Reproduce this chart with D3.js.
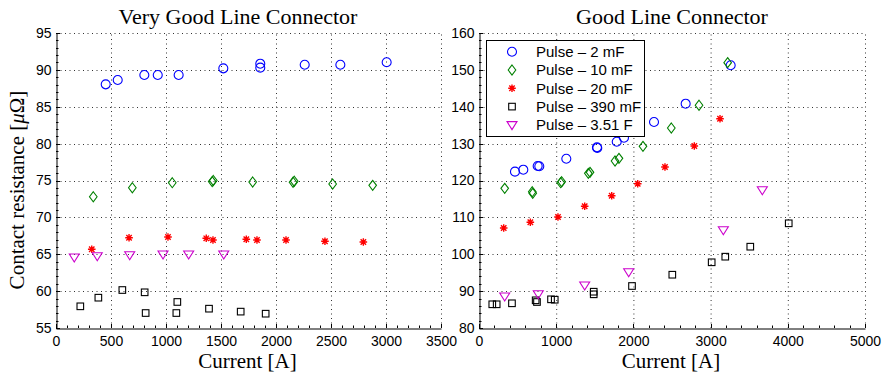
<!DOCTYPE html>
<html><head><meta charset="utf-8">
<script src="https://cdn.jsdelivr.net/npm/d3@7"></script>
<style>body{margin:0;background:#fff}svg{display:block}</style>
</head><body><svg id="c" width="887" height="377"></svg>
<script>
// ---------- data ----------
const seriesNames = ["Pulse \u2013 2 mF","Pulse \u2013 10 mF","Pulse \u2013 20 mF","Pulse \u2013 390 mF","Pulse \u2013 3.51 F"];
const seriesColors = ["#0000ff","#008000","#ff0000","#000000","#cc00cc"];
const seriesMarkers = ["circle","diamond","star","square","triangle"];

// Very Good Line Connector: [current A, resistance µΩ]
const vg2mF   = [[452,88.04],[561,88.63],[803,89.31],[925,89.31],[1115,89.31],[1521,90.21],[1857,90.84],[1857,90.3],[2261,90.7],[2585,90.7],[3006,91.03]];
const vg10mF  = [[339,72.8],[694,74.02],[1057,74.7],[1420,74.85],[1430,75.0],[1788,74.8],[2155,74.76],[2166,74.9],[2515,74.53],[2879,74.35]];
const vg20mF  = [[325,65.67],[664,67.24],[1018,67.34],[1366,67.16],[1427,66.93],[1730,67.03],[1827,66.93],[2091,66.93],[2445,66.76],[2794,66.66]];
const vg390mF = [[221,57.94],[385,59.11],[603,60.15],[806,59.84],[815,57.03],[1094,57.03],[1103,58.53],[1391,57.62],[1679,57.22],[1906,56.94]];
const vg351F  = [[166,64.59],[375,64.76],[670,64.9],[973,64.99],[1206,64.99],[1525,64.99]];

// Good Line Connector
const g2mF   = [[466,122.4],[574,122.93],[760,123.93],[781,123.85],[1131,125.9],[1528,129.0],[1532,128.8],[1784,130.52],[1878,131.6],[2267,135.86],[2677,140.83],[3260,151.24]];
const g10mF  = [[333,117.88],[690,116.96],[696,116.53],[1058,119.4],[1071,119.67],[1416,121.95],[1438,122.22],[1762,125.29],[1813,126.02],[2124,129.27],[2491,134.24],[2850,140.4],[3221,151.95]];
const g20mF  = [[320,107.12],[665,108.66],[1023,110.1],[1369,113.0],[1719,115.88],[2056,119.13],[2409,123.66],[2789,129.36],[3122,136.76]];
const g390mF = [[172,86.43],[229,86.43],[427,86.7],[734,87.51],[751,87.05],[933,87.78],[981,87.67],[1486,89.84],[1486,89.14],[1982,91.39],[2504,94.45],[3014,97.82],[3190,99.34],[3514,102.05],[4012,108.39]];
const g351F  = [[333,88.6],[768,89.22],[1369,91.58],[1939,95.19],[3165,106.58],[3670,117.42]];

const leftXTicks  = [0,500,1000,1500,2000,2500,3000,3500];
const leftYTicks  = [55,60,65,70,75,80,85,90,95];
const rightXTicks = [0,1000,2000,3000,4000,5000];
const rightYTicks = [80,90,100,110,120,130,140,150,160];

const panels = [
  {title:"Very Good Line Connector", tx:238, x0:56, x1:441, xd:[0,3500], yd:[55,95], xt:leftXTicks, yt:leftYTicks, xm:100, ym:1,
   data:[vg2mF,vg10mF,vg20mF,vg390mF,vg351F]},
  {title:"Good Line Connector", tx:672, x0:479, x1:865, xd:[0,5000], yd:[80,160], xt:rightXTicks, yt:rightYTicks, xm:200, ym:2,
   data:[g2mF,g10mF,g20mF,g390mF,g351F], legend:true}
];
const yTop = 33, yBot = 328;

// ---------- drawing ----------
const svg = d3.select("#c");
const sans = "'Liberation Sans', Arial, sans-serif";
const serif = "'Liberation Serif', 'Times New Roman', serif";

function marker(g, type, color, x, y) {
  const s = g.append("g").attr("transform", `translate(${x},${y})`)
    .attr("fill","none").attr("stroke",color).attr("stroke-width",1.1);
  if (type === "circle") s.append("circle").attr("r",4.5);
  else if (type === "diamond") s.append("path").attr("d","M0,-5L3.8,0L0,5L-3.8,0Z");
  else if (type === "square") s.append("rect").attr("x",-3.3).attr("y",-3.3).attr("width",6.6).attr("height",6.6);
  else if (type === "triangle") s.append("path").attr("d","M-5,-3.3L5,-3.3L0,4.7Z");
  else if (type === "star") {
    s.attr("stroke-width",1.4);
    s.append("path").attr("d","M-3.8,0H3.8M0,-3.8V3.8M-2.7,-2.7L2.7,2.7M-2.7,2.7L2.7,-2.7");
  }
}

panels.forEach(p => {
  const x = d3.scaleLinear().domain(p.xd).range([p.x0, p.x1]);
  const y = d3.scaleLinear().domain(p.yd).range([yBot, yTop]);
  const g = svg.append("g");

  // grid
  const grid = g.append("g").attr("stroke","#333").attr("stroke-width",1).attr("stroke-dasharray","1,3.5");
  p.xt.forEach(t => { if (t !== p.xd[0]) grid.append("line").attr("x1",x(t)+0.5).attr("x2",x(t)+0.5).attr("y1",yBot).attr("y2",yTop); });
  p.yt.forEach(t => { if (t !== p.yd[0]) grid.append("line").attr("y1",Math.round(y(t))+0.5).attr("y2",Math.round(y(t))+0.5).attr("x1",p.x0).attr("x2",p.x1); });

  // axes via d3
  const xAxis = d3.axisBottom(x).tickValues(p.xt).tickSize(0).tickPadding(8).tickFormat(d3.format("d"));
  const ax = g.append("g").attr("transform",`translate(0,${yBot+0.5})`).call(xAxis);
  ax.select(".domain").attr("stroke","#000");
  ax.selectAll("text").attr("font-family",sans).attr("font-size",14).attr("fill","#000");
  const yAxis = d3.axisLeft(y).tickValues(p.yt).tickSize(0).tickPadding(5).tickFormat(d3.format("d"));
  const ay = g.append("g").attr("transform",`translate(${p.x0+0.5},0)`).call(yAxis);
  ay.select(".domain").attr("stroke","#000");
  ay.selectAll("text").attr("font-family",sans).attr("font-size",14).attr("fill","#000");

  // inward ticks (major + minor)
  const tk = g.append("g").attr("stroke","#000").attr("stroke-width",1);
  d3.range(p.xd[0], p.xd[1]+1e-9, p.xm).forEach(t => {
    const len = p.xt.includes(t) ? 4 : 2.5;
    tk.append("line").attr("x1",Math.round(x(t))+0.5).attr("x2",Math.round(x(t))+0.5).attr("y1",yBot).attr("y2",yBot-len);
  });
  d3.range(p.yd[0], p.yd[1]+1e-9, p.ym).forEach(t => {
    const len = p.yt.includes(t) ? 4 : 2.5;
    tk.append("line").attr("y1",Math.round(y(t))+0.5).attr("y2",Math.round(y(t))+0.5).attr("x1",p.x0).attr("x2",p.x0+len);
  });

  // data
  const dg = g.append("g");
  p.data.forEach((ser, i) => ser.forEach(d => marker(dg, seriesMarkers[i], seriesColors[i], x(d[0]), y(d[1]))));

  // title & x label
  g.append("text").attr("x",p.tx).attr("y",24).attr("text-anchor","middle")
    .attr("font-family",serif).attr("font-size",22).text(p.title);
  g.append("text").attr("x",(p.x0+p.x1)/2 - 1).attr("y",368).attr("text-anchor","middle")
    .attr("font-family",serif).attr("font-size",21).text("Current [A]");

  if (p.legend) {
    const lx = 486, ly = 40;
    const lg = g.append("g");
    lg.append("rect").attr("x",lx+0.5).attr("y",ly+0.5).attr("width",158).attr("height",96)
      .attr("fill","#fff").attr("stroke","#000").attr("stroke-width",1);
    seriesNames.forEach((n,i) => {
      const yy = ly + 11.7 + i*18.3;
      marker(lg, seriesMarkers[i], seriesColors[i], lx+26, yy);
      lg.append("text").attr("x",lx+50).attr("y",yy+5.3).attr("font-family",sans).attr("font-size",15).text(n);
    });
  }
});

// y label
const yl = svg.append("text").attr("transform","translate(24,190) rotate(-90)").attr("text-anchor","middle")
  .attr("font-family",serif).attr("font-size",21);
yl.append("tspan").text("Contact resistance [");
yl.append("tspan").attr("font-style","italic").text("\u03bc");
yl.append("tspan").text("\u03a9]");
</script></body></html>
